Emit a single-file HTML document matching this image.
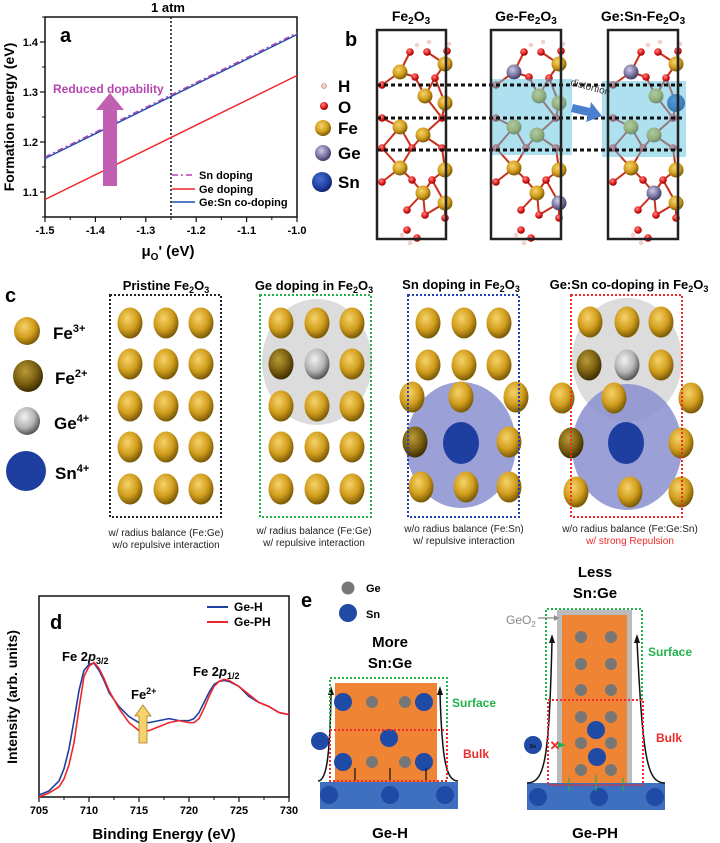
<!DOCTYPE html>
<html><head><meta charset="utf-8"><style>
html,body{margin:0;padding:0;background:#fff}
svg{display:block;font-family:"Liberation Sans",Arial,sans-serif;font-weight:bold}
</style></head><body>
<svg id="fig" width="720" height="843" viewBox="0 0 720 843" xmlns="http://www.w3.org/2000/svg">
<defs>
<radialGradient id="gFe" cx="40%" cy="35%" r="65%"><stop offset="0" stop-color="#f6d36a"/><stop offset="0.6" stop-color="#d19d1c"/><stop offset="1" stop-color="#7a5a08"/></radialGradient>
<radialGradient id="gFe2" cx="40%" cy="35%" r="65%"><stop offset="0" stop-color="#b99a3a"/><stop offset="0.6" stop-color="#7c6010"/><stop offset="1" stop-color="#3e2f04"/></radialGradient>
<radialGradient id="gGe" cx="40%" cy="35%" r="65%"><stop offset="0" stop-color="#f2f2f2"/><stop offset="0.6" stop-color="#b5b5b5"/><stop offset="1" stop-color="#555"/></radialGradient>
<radialGradient id="gGeB" cx="40%" cy="35%" r="65%"><stop offset="0" stop-color="#cfcbe6"/><stop offset="0.6" stop-color="#7b76a3"/><stop offset="1" stop-color="#3e3a63"/></radialGradient>
<radialGradient id="gO" cx="40%" cy="35%" r="65%"><stop offset="0" stop-color="#ff8a8a"/><stop offset="0.6" stop-color="#e31b1b"/><stop offset="1" stop-color="#8a0000"/></radialGradient>
<radialGradient id="gSn" cx="40%" cy="35%" r="65%"><stop offset="0" stop-color="#4a6fd0"/><stop offset="0.7" stop-color="#1f3fa0"/><stop offset="1" stop-color="#10226a"/></radialGradient>
</defs>

<!-- ================= PANEL A ================= -->
<g id="panelA">
<text x="168" y="12" text-anchor="middle" font-size="13">1 atm</text>
<text x="60" y="42" font-size="20">a</text>
<text transform="translate(14,117) rotate(-90)" text-anchor="middle" font-size="14">Formation energy (eV)</text>
<text x="168" y="256" text-anchor="middle" font-size="15">μ<tspan font-size="10" dy="4">O</tspan><tspan dy="-4">' (eV)</tspan></text>
<g id="aAxes"></g>
<g id="aMarks"></g>
<rect x="103" y="108" width="14" height="78" fill="#c15fb2"/>
<polygon points="96,110 110,93 124,110" fill="#c15fb2"/>
<text x="53" y="93" font-size="12" fill="#b444b0">Reduced dopability</text>
<g>
<line x1="172" y1="175" x2="195" y2="175" stroke="#b444b0" stroke-width="1.5" stroke-dasharray="6,3,2,3"/>
<text x="199" y="179" font-size="11">Sn doping</text>
<line x1="172" y1="189" x2="195" y2="189" stroke="#f0262b" stroke-width="1.5"/>
<text x="199" y="193" font-size="11">Ge doping</text>
<line x1="172" y1="202" x2="195" y2="202" stroke="#1f4fb0" stroke-width="1.5"/>
<text x="199" y="206" font-size="11">Ge:Sn co-doping</text>
</g>
</g>

<!-- ================= PANEL B ================= -->
<g id="panelB">
<text x="345" y="46" font-size="20">b</text>
<text x="411" y="21" text-anchor="middle" font-size="14">Fe<tspan font-size="10" dy="3">2</tspan><tspan dy="-3">O</tspan><tspan font-size="10" dy="3">3</tspan></text>
<text x="526" y="21" text-anchor="middle" font-size="14">Ge-Fe<tspan font-size="10" dy="3">2</tspan><tspan dy="-3">O</tspan><tspan font-size="10" dy="3">3</tspan></text>
<text x="643" y="21" text-anchor="middle" font-size="14">Ge:Sn-Fe<tspan font-size="10" dy="3">2</tspan><tspan dy="-3">O</tspan><tspan font-size="10" dy="3">3</tspan></text>
<g>
<circle cx="324" cy="86" r="2.5" fill="#f4d0cc" stroke="#b77" stroke-width="0.6"/><text x="338" y="92" font-size="17">H</text>
<circle cx="324" cy="106" r="4" fill="url(#gO)"/><text x="338" y="113" font-size="17">O</text>
<circle cx="323" cy="128" r="8" fill="url(#gFe)"/><text x="338" y="134" font-size="17">Fe</text>
<circle cx="323" cy="153" r="8" fill="url(#gGeB)"/><text x="338" y="159" font-size="17">Ge</text>
<circle cx="322" cy="182" r="10" fill="url(#gSn)"/><text x="338" y="188" font-size="17">Sn</text>
</g>
<g id="bStruct"></g>
<rect x="490" y="79" width="82" height="76" fill="#5ec3e0" opacity="0.5"/>
<rect x="602" y="81" width="84" height="76" fill="#5ec3e0" opacity="0.5"/>
<g stroke="#111" stroke-width="3" stroke-dasharray="4,3">
<line x1="377" y1="85" x2="684" y2="85"/><line x1="377" y1="118" x2="684" y2="118"/><line x1="377" y1="150" x2="684" y2="150"/>
</g>
<g fill="none" stroke="#222" stroke-width="2.5">
<rect x="377" y="30" width="69" height="209"/><rect x="491" y="30" width="70" height="209"/><rect x="608" y="30" width="70" height="209"/>
</g>
<text transform="translate(570,85) rotate(15)" font-size="10" fill="#333" font-weight="normal">distortion</text>
<polygon points="573,104 590,108 591,102 602,116 586,122 588,116 571,112" fill="#4a7fd0"/>
</g>

<!-- ================= PANEL C ================= -->
<g id="panelC">
<text x="5" y="302" font-size="20">c</text>
<g>
<ellipse cx="27" cy="331" rx="13" ry="14" fill="url(#gFe)"/><text x="53" y="339" font-size="17">Fe<tspan font-size="11" dy="-7">3+</tspan></text>
<ellipse cx="28" cy="376" rx="15" ry="16" fill="url(#gFe2)"/><text x="55" y="384" font-size="17">Fe<tspan font-size="11" dy="-7">2+</tspan></text>
<ellipse cx="27" cy="421" rx="13" ry="14" fill="url(#gGe)"/><text x="54" y="429" font-size="17">Ge<tspan font-size="11" dy="-7">4+</tspan></text>
<ellipse cx="26" cy="471" rx="20" ry="20" fill="#1f3fa0"/><text x="55" y="479" font-size="17">Sn<tspan font-size="11" dy="-7">4+</tspan></text>
</g>
<g font-size="13" text-anchor="middle">
<text x="166" y="290">Pristine Fe<tspan font-size="9" dy="3">2</tspan><tspan dy="-3">O</tspan><tspan font-size="9" dy="3">3</tspan></text>
<text x="314" y="290">Ge doping in Fe<tspan font-size="9" dy="3">2</tspan><tspan dy="-3">O</tspan><tspan font-size="9" dy="3">3</tspan></text>
<text x="461" y="289">Sn doping in Fe<tspan font-size="9" dy="3">2</tspan><tspan dy="-3">O</tspan><tspan font-size="9" dy="3">3</tspan></text>
<text x="629" y="289">Ge:Sn co-doping in Fe<tspan font-size="9" dy="3">2</tspan><tspan dy="-3">O</tspan><tspan font-size="9" dy="3">3</tspan></text>
</g>
<ellipse cx="317" cy="362" rx="55" ry="63" fill="#dcdcdc"/>
<ellipse cx="461" cy="445" rx="55" ry="63" fill="#8a8fd0" opacity="0.85"/>
<ellipse cx="627" cy="360" rx="55" ry="62" fill="#dcdcdc"/>
<ellipse cx="627" cy="447" rx="55" ry="63" fill="#8a8fd0" opacity="0.85"/>
<g id="cAtoms"></g>
<g fill="none" stroke-width="2" stroke-dasharray="2,2">
<rect x="110" y="295" width="111" height="222" stroke="#222"/>
<rect x="260" y="295" width="111" height="222" stroke="#22b14c"/>
<rect x="408" y="295" width="111" height="222" stroke="#2440b0"/>
<rect x="571" y="295" width="111" height="222" stroke="#ee2a2a"/>
</g>
<g font-size="10" font-weight="normal" text-anchor="middle" fill="#222">
<text x="166" y="536">w/ radius balance (Fe:Ge)</text>
<text x="166" y="548">w/o repulsive interaction</text>
<text x="314" y="534">w/ radius balance (Fe:Ge)</text>
<text x="314" y="546">w/ repulsive interaction</text>
<text x="464" y="532">w/o radius balance (Fe:Sn)</text>
<text x="464" y="544">w/ repulsive interaction</text>
<text x="630" y="532">w/o radius balance (Fe:Ge:Sn)</text>
<text x="630" y="544" fill="#ee2a2a">w/ strong Repulsion</text>
</g>
</g>

<!-- ================= PANEL D ================= -->
<g id="panelD">
<text x="50" y="629" font-size="20">d</text>
<text transform="translate(17,697) rotate(-90)" text-anchor="middle" font-size="14">Intensity (arb. units)</text>
<text x="164" y="839" text-anchor="middle" font-size="15">Binding Energy (eV)</text>
<g id="dAxes"></g>
<g id="dMarks"></g>
<text x="62" y="661" font-size="13">Fe 2<tspan font-style="italic">p</tspan><tspan font-size="9" dy="3">3/2</tspan></text>
<text x="193" y="676" font-size="13">Fe 2<tspan font-style="italic">p</tspan><tspan font-size="9" dy="3">1/2</tspan></text>
<text x="131" y="699" font-size="13">Fe<tspan font-size="9" dy="-5">2+</tspan></text>
<polygon points="139,743 147,743 147,716 151,716 143,705 135,716 139,716" fill="#f6d36a" stroke="#a07a20" stroke-width="0.8"/>
<g>
<line x1="207" y1="607" x2="228" y2="607" stroke="#1f3fa0" stroke-width="2"/><text x="234" y="611" font-size="12">Ge-H</text>
<line x1="207" y1="622" x2="228" y2="622" stroke="#f0262b" stroke-width="2"/><text x="234" y="626" font-size="12">Ge-PH</text>
</g>
</g>

<!-- ================= PANEL E ================= -->
<g id="panelE">
<text x="301" y="607" font-size="20">e</text>
<circle cx="348" cy="588" r="6.5" fill="#777"/><text x="366" y="592" font-size="11">Ge</text>
<circle cx="348" cy="613" r="9" fill="#1f4aa5"/><text x="366" y="618" font-size="11">Sn</text>
<!-- Ge-H -->
<text x="390" y="647" text-anchor="middle" font-size="15">More</text>
<text x="390" y="668" text-anchor="middle" font-size="15">Sn:Ge</text>
<rect x="320" y="782" width="138" height="27" fill="#3f6fbf"/>
<circle cx="329" cy="795" r="9" fill="#1f4aa5"/><circle cx="390" cy="795" r="9" fill="#1f4aa5"/><circle cx="445" cy="795" r="9" fill="#1f4aa5"/>
<rect x="335" y="683" width="102" height="99" fill="#ee8434"/>
<g fill="#777"><circle cx="372" cy="702" r="6"/><circle cx="405" cy="702" r="6"/><circle cx="372" cy="762" r="6"/><circle cx="405" cy="762" r="6"/></g>
<g fill="#1f4aa5"><circle cx="343" cy="702" r="9"/><circle cx="424" cy="702" r="9"/><circle cx="389" cy="738" r="9"/><circle cx="343" cy="762" r="9"/><circle cx="424" cy="762" r="9"/><circle cx="320" cy="741" r="9"/></g>
<path d="M318,781 C326,781 330,760 331,693" fill="none" stroke="#111" stroke-width="1.5"/>
<path d="M458,781 C446,781 442,760 440,693" fill="none" stroke="#111" stroke-width="1.5"/>
<polygon points="437,695 440,686 443,695" fill="#111"/><polygon points="328,695 331,686 334,695" fill="#111"/>
<g stroke="#111" stroke-width="1.2"><line x1="390" y1="781" x2="390" y2="768"/><line x1="426" y1="781" x2="426" y2="768"/><line x1="355" y1="781" x2="355" y2="768"/></g>
<polyline points="330,730 330,678 447,678 447,730" fill="none" stroke="#22b14c" stroke-width="2" stroke-dasharray="2,2"/>
<rect x="330" y="730" width="117" height="51" fill="none" stroke="#ee2a2a" stroke-width="2" stroke-dasharray="2,2"/>
<text x="452" y="707" font-size="12" fill="#22b14c">Surface</text>
<text x="463" y="758" font-size="12" fill="#ee2a2a">Bulk</text>
<text x="390" y="838" text-anchor="middle" font-size="15">Ge-H</text>
<!-- Ge-PH -->
<text x="595" y="577" text-anchor="middle" font-size="15">Less</text>
<text x="595" y="598" text-anchor="middle" font-size="15">Sn:Ge</text>
<rect x="527" y="783" width="138" height="27" fill="#3f6fbf"/>
<circle cx="538" cy="797" r="9" fill="#1f4aa5"/><circle cx="599" cy="797" r="9" fill="#1f4aa5"/><circle cx="655" cy="797" r="9" fill="#1f4aa5"/>
<rect x="557" y="610" width="75" height="173" fill="#bbb"/>
<rect x="562" y="615" width="65" height="168" fill="#ee8434"/>
<g fill="#777"><circle cx="581" cy="637" r="6"/><circle cx="611" cy="637" r="6"/><circle cx="581" cy="664" r="6"/><circle cx="611" cy="664" r="6"/><circle cx="581" cy="690" r="6"/><circle cx="611" cy="690" r="6"/><circle cx="581" cy="717" r="6"/><circle cx="611" cy="717" r="6"/><circle cx="581" cy="743" r="6"/><circle cx="611" cy="743" r="6"/><circle cx="581" cy="770" r="6"/><circle cx="611" cy="770" r="6"/></g>
<g fill="#1f4aa5"><circle cx="596" cy="730" r="9"/><circle cx="597" cy="757" r="9"/><circle cx="533" cy="745" r="9"/></g>
<text x="533" y="748" text-anchor="middle" font-size="5" fill="#111">Sn</text>
<text x="555" y="750" text-anchor="middle" font-size="13" fill="#ee2a2a">✕</text>
<polygon points="558,742 566,745 558,748" fill="#22b14c"/>
<path d="M527,783 C545,783 549,760 552,641" fill="none" stroke="#111" stroke-width="1.5"/>
<path d="M665,783 C647,783 643,760 637,641" fill="none" stroke="#111" stroke-width="1.5"/>
<polygon points="549,643 552,634 555,643" fill="#111"/><polygon points="634,643 637,634 640,643" fill="#111"/>
<g stroke="#22b14c" stroke-width="1.2"><line x1="569" y1="791" x2="569" y2="778"/><line x1="596" y1="791" x2="596" y2="775"/><line x1="623" y1="791" x2="623" y2="778"/></g>
<polyline points="546,700 546,609 642,609 642,700" fill="none" stroke="#22b14c" stroke-width="2" stroke-dasharray="2,2"/>
<rect x="548" y="700" width="95" height="85" fill="none" stroke="#ee2a2a" stroke-width="2" stroke-dasharray="2,2"/>
<text x="506" y="624" font-size="12" fill="#888" font-weight="normal">GeO<tspan font-size="8" dy="3">2</tspan></text>
<line x1="538" y1="618" x2="554" y2="618" stroke="#888" stroke-width="1.2"/><polygon points="554,615 559,618 554,621" fill="#888"/>
<text x="648" y="656" font-size="12" fill="#22b14c">Surface</text>
<text x="656" y="742" font-size="12" fill="#ee2a2a">Bulk</text>
<text x="595" y="838" text-anchor="middle" font-size="15">Ge-PH</text>
</g>
</svg>
<script>
const NS="http://www.w3.org/2000/svg";
// ---------- Panel A data ----------
const aMu=[-1.5,-1.0];
const aSnDoping=[1.170,1.418];
const aGeDoping=[1.085,1.333];
const aCoDoping=[1.167,1.415];
const aXTicks=[-1.5,-1.4,-1.3,-1.2,-1.1,-1.0];
const aXTickLabels=["-1.5","-1.4","-1.3","-1.2","-1.1","-1.0"];
const aYTicks=[1.1,1.2,1.3,1.4];
const aYTickLabels=["1.1","1.2","1.3","1.4"];
const aAtm=-1.25;
// ---------- Panel D data ----------
const dEnergy=[705,706,707,707.5,708,708.5,709,709.5,710,710.5,711,711.5,712,713,714,715,716,717,718,719,720,720.5,721,721.5,722,722.5,723,723.5,724,725,726,727,728,729,730];
const dGeH=[0.01,0.03,0.08,0.14,0.24,0.38,0.53,0.63,0.66,0.665,0.63,0.58,0.52,0.45,0.40,0.37,0.37,0.38,0.39,0.38,0.38,0.39,0.42,0.47,0.52,0.56,0.575,0.58,0.575,0.55,0.50,0.47,0.45,0.42,0.41];
const dGePH=[0.0,0.02,0.05,0.09,0.16,0.27,0.44,0.60,0.65,0.67,0.64,0.59,0.53,0.44,0.37,0.33,0.33,0.35,0.37,0.38,0.37,0.37,0.39,0.44,0.50,0.55,0.575,0.585,0.58,0.55,0.51,0.47,0.45,0.42,0.41];
const dXTicks=[705,710,715,720,725,730];
const dXTickLabels=["705","710","715","720","725","730"];

function mk(tag,attrs,parent){const e=document.createElementNS(NS,tag);for(const k in attrs)e.setAttribute(k,attrs[k]);parent.appendChild(e);return e;}

// ---- Panel A draw ----
(function(){
  const L=45,R=297,T=17,B=217,x0=-1.5,x1=-1.0,y0=1.05,y1=1.45;
  const sx=v=>L+(v-x0)/(x1-x0)*(R-L), sy=v=>B-(v-y0)/(y1-y0)*(B-T);
  const ax=document.getElementById('aAxes'), mg=document.getElementById('aMarks');
  const fr=mk('rect',{x:L,y:T,width:R-L,height:B-T,fill:'none',stroke:'#111','stroke-width':1.5},ax);
  
  
  aXTicks.forEach((t,i)=>{
    mk('line',{x1:sx(t),y1:B,x2:sx(t),y2:B+5,stroke:'#111','stroke-width':1.2},ax);
    if(i<aXTicks.length-1)mk('line',{x1:sx(t+0.05),y1:B,x2:sx(t+0.05),y2:B+3,stroke:'#111'},ax);
    const tx=mk('text',{x:sx(t),y:B+17,'text-anchor':'middle','font-size':11},ax);tx.textContent=aXTickLabels[i];
    
    
  });
  aYTicks.forEach((t,i)=>{
    mk('line',{x1:L-5,y1:sy(t),x2:L,y2:sy(t),stroke:'#111','stroke-width':1.2},ax);
    mk('line',{x1:L-3,y1:sy(t+0.05),x2:L,y2:sy(t+0.05),stroke:'#111'},ax);
    const tx=mk('text',{x:L-7,y:sy(t)+4,'text-anchor':'end','font-size':11},ax);tx.textContent=aYTickLabels[i];
    
    
  });
  mk('line',{x1:L-3,y1:sy(1.05),x2:L,y2:sy(1.05),stroke:'#111'},ax);
  const vl=mk('line',{x1:sx(aAtm),y1:T,x2:sx(aAtm),y2:B,stroke:'#111','stroke-width':1.5,'stroke-dasharray':'2,2'},mg);
  
  
  const series=[[aGeDoping,'#f0262b','none','line-ge-doping'],[aCoDoping,'#1f4fb0','none','line-gesn-codoping'],[aSnDoping,'#b444b0','6,3,2,3','line-sn-doping']];
  series.forEach(s=>{
    const pts=aMu.map((m,i)=>sx(m)+','+sy(s[0][i])).join(' ');
    const p=mk('polyline',{points:pts,fill:'none',stroke:s[1],'stroke-width':1.5,'stroke-dasharray':s[2]},mg);
    
    
  });
})();

// ---- Panel D draw ----
(function(){
  const L=39,R=289,T=596,B=797,x0=705,x1=730;
  const sx=v=>L+(v-x0)/(x1-x0)*(R-L), sy=v=>B-v*(B-T);
  const ax=document.getElementById('dAxes'), mg=document.getElementById('dMarks');
  const fr=mk('rect',{x:L,y:T,width:R-L,height:B-T,fill:'none',stroke:'#111','stroke-width':1.5},ax);
  
  
  dXTicks.forEach((t,i)=>{
    mk('line',{x1:sx(t),y1:B,x2:sx(t),y2:B+5,stroke:'#111','stroke-width':1.2},ax);
    if(i<dXTicks.length-1)mk('line',{x1:sx(t+2.5),y1:B,x2:sx(t+2.5),y2:B+3,stroke:'#111'},ax);
    const tx=mk('text',{x:sx(t),y:B+17,'text-anchor':'middle','font-size':11},ax);tx.textContent=dXTickLabels[i];
    
    
  });
  [[dGeH,'#1f3fa0','series-ge-h'],[dGePH,'#f0262b','series-ge-ph']].forEach(s=>{
    const pts=dEnergy.map((e,i)=>sx(e)+','+sy(s[0][i])).join(' ');
    const p=mk('polyline',{points:pts,fill:'none',stroke:s[1],'stroke-width':1.6,'stroke-linejoin':'round'},mg);
    
    
  });
})();

// ---- Panel B structures (decorative) ----
(function(){
  const g=document.getElementById('bStruct');
  const fe=[[23,42],[68,34],[48,66],[68,73],[23,97],[46,105],[23,138],[68,140],[46,163],[68,173]];
  const o=[[5,55],[38,47],[58,48],[33,22],[50,22],[70,21],[5,88],[65,88],[5,118],[35,118],[65,118],[5,152],[35,150],[55,150],[30,180],[48,185],[68,188],[30,200],[40,208]];
  const h=[[40,15],[52,12],[72,14],[33,213],[25,205]];
  const boxes=[[377,{}],[491,{0:'ge',9:'ge'}],[608,{0:'ge',3:'sn',8:'ge'}]];
  boxes.forEach(b=>{
    const ox=b[0],sub=b[1];
    fe.forEach(f=>o.forEach(p=>{const d=Math.hypot(f[0]-p[0],f[1]-p[1]);if(d<30)mk('line',{x1:ox+f[0],y1:30+f[1],x2:ox+p[0],y2:30+p[1],stroke:'#c8301c','stroke-width':2},g);}));
    o.forEach(p=>mk('circle',{cx:ox+p[0],cy:30+p[1],r:3.8,fill:'url(#gO)'},g));
    h.forEach(p=>mk('circle',{cx:ox+p[0],cy:30+p[1],r:2.3,fill:'#f4d0cc'},g));
    fe.forEach((f,i)=>{const t=sub[i];mk('circle',{cx:ox+f[0],cy:30+f[1],r:t==='sn'?9:7.5,fill:t==='ge'?'url(#gGeB)':t==='sn'?'url(#gSn)':'url(#gFe)'},g);});
  });
})();

// ---- Panel C atoms (decorative) ----
(function(){
  const g=document.getElementById('cAtoms');
  const rows=[323,364,406,447,489];
  const a=[];
  [130,166,201].forEach(x=>rows.forEach(y=>a.push([x,y,'fe'])));
  [281,317,352].forEach((x,ci)=>rows.forEach((y,ri)=>a.push([x,y,ri===1&&ci===0?'fe2':ri===1&&ci===1?'ge':'fe'])));
  [[428,323],[464,323],[499,323],[428,365],[464,365],[499,365],[412,397],[461,397],[516,397],[509,442],[421,487],[466,487],[509,487]].forEach(p=>a.push([p[0],p[1],'fe']));
  a.push([415,442,'fe2']);a.push([461,443,'sn']);
  [[590,322],[627,322],[661,322],[661,365],[562,398],[614,398],[691,398],[681,443],[576,492],[630,492],[681,492]].forEach(p=>a.push([p[0],p[1],'fe']));
  a.push([589,365,'fe2']);a.push([627,365,'ge']);a.push([571,443,'fe2']);a.push([626,443,'sn']);
  a.forEach(p=>{
    const t=p[2];
    mk('ellipse',{cx:p[0],cy:p[1],rx:t==='sn'?18:12.5,ry:t==='sn'?21:15.5,fill:t==='sn'?'#1f3fa0':t==='ge'?'url(#gGe)':t==='fe2'?'url(#gFe2)':'url(#gFe)'},g);
  });
})();
</script>
</body></html>
